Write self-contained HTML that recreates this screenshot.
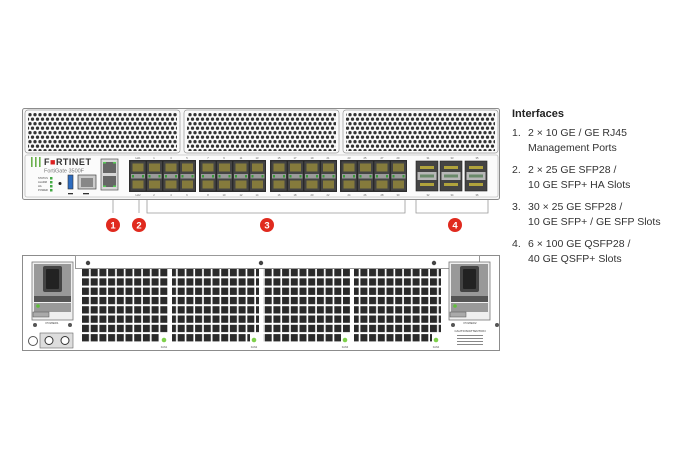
<!DOCTYPE html>
<html><head><meta charset="utf-8"><style>
html,body{margin:0;padding:0;background:#fff;width:690px;height:460px;overflow:hidden}
svg{display:block}
</style></head><body>
<svg width="690" height="460" viewBox="0 0 690 460" xmlns="http://www.w3.org/2000/svg" font-family="Liberation Sans, sans-serif">
<defs>
<pattern id="holes" x="0" y="0" width="5" height="9" patternUnits="userSpaceOnUse">
<circle cx="2.5" cy="2.2" r="1.65" fill="#333"/>
<circle cx="0" cy="6.7" r="1.65" fill="#333"/>
<circle cx="5" cy="6.7" r="1.65" fill="#333"/>
</pattern>
<pattern id="sq" x="82" y="269" width="8.7" height="9.3" patternUnits="userSpaceOnUse">
<rect x="0" y="0" width="7" height="7.3" fill="#2a2a2a"/>
</pattern>
<g id="cage">
<rect x="0" y="0" width="16" height="30" fill="#444" stroke="#222" stroke-width="0.6"/>
<rect x="2.5" y="2.5" width="11" height="8" fill="#857b3c"/>
<rect x="2.5" y="19.5" width="11" height="8" fill="#857b3c"/>
<rect x="1" y="13" width="14" height="4.5" fill="#9a9a9a"/>
<rect x="2" y="14" width="2" height="2.5" fill="#3a9a3a"/>
<rect x="12" y="14" width="2" height="2.5" fill="#3a9a3a"/>
</g>
<g id="sfp4">
<rect x="-1" y="-1" width="67" height="32" fill="#333"/>
<use href="#cage" x="0"/><use href="#cage" x="16.5"/><use href="#cage" x="33"/><use href="#cage" x="49.5"/>
</g>
<g id="qsfp">
<rect x="0" y="0" width="22" height="30" fill="#444" stroke="#222" stroke-width="0.6"/>
<rect x="4" y="5" width="14" height="3" fill="#b0a33c"/>
<rect x="4" y="22" width="14" height="3" fill="#b0a33c"/>
<rect x="1.5" y="11" width="19" height="8" fill="#b8b8b8"/>
<rect x="4" y="13.5" width="14" height="3" fill="#6a8a6a"/>
</g>
<g id="psu">
<rect x="0" y="0" width="41" height="58" fill="#efefef" stroke="#777" stroke-width="0.8"/>
<rect x="2" y="2" width="37" height="32" fill="#999"/>
<rect x="11" y="4" width="19" height="26" rx="2" fill="#444"/>
<rect x="14" y="7" width="13" height="20" rx="1" fill="#222"/>
<rect x="2" y="34" width="37" height="6" fill="#555"/>
<rect x="2" y="41" width="37" height="9" fill="#999"/>
<circle cx="6" cy="44" r="1.8" fill="#5fbf3a"/>
<rect x="1" y="50" width="16" height="5" fill="#aaa" stroke="#555" stroke-width="0.5"/>
</g>
</defs>

<!-- FRONT PANEL -->
<rect x="22.5" y="108.5" width="477" height="91" rx="2" fill="#f7f7f7" stroke="#8c8c8c"/>
<rect x="25" y="110" width="155" height="43" rx="3" fill="#fafafa" stroke="#999" stroke-width="0.7"/>
<rect x="28" y="112" width="149" height="39" fill="url(#holes)"/>
<rect x="184" y="110" width="155" height="43" rx="3" fill="#fafafa" stroke="#999" stroke-width="0.7"/>
<rect x="187" y="112" width="149" height="39" fill="url(#holes)"/>
<rect x="343" y="110" width="155" height="43" rx="3" fill="#fafafa" stroke="#999" stroke-width="0.7"/>
<rect x="346" y="112" width="149" height="39" fill="url(#holes)"/>
<rect x="25" y="155" width="473" height="42" rx="2" fill="#fbfbfb" stroke="#aaa" stroke-width="0.6"/>

<!-- logo -->
<rect x="31" y="157" width="1.6" height="10" fill="#6ab04c"/>
<rect x="35" y="157" width="1.6" height="10" fill="#6ab04c"/>
<rect x="39" y="157" width="1.6" height="10" fill="#6ab04c"/>
<text x="44" y="165" font-size="9" font-weight="bold" fill="#333" letter-spacing="0.5">F<tspan fill="#d22">■</tspan>RTINET</text>
<text x="44" y="172.5" font-size="5.5" fill="#777">FortiGate 3500F</text>
<g font-size="2.6" fill="#444">
<text x="38" y="179">STATUS</text><text x="38" y="183">ALARM</text><text x="38" y="187">HA</text><text x="38" y="191">POWER</text>
</g>
<rect x="50" y="177" width="2.5" height="2.5" fill="#4a4"/><rect x="50" y="181" width="2.5" height="2.5" fill="#4a4"/>
<rect x="50" y="185" width="2.5" height="2.5" fill="#4a4"/><rect x="50" y="189" width="2.5" height="2.5" fill="#4a4"/>
<circle cx="60" cy="183.5" r="1.5" fill="#222"/>
<rect x="68" y="175" width="5" height="14" fill="#2d6cc0" stroke="#333" stroke-width="0.6"/>
<rect x="68" y="193" width="5" height="1.3" fill="#333"/>
<rect x="78" y="175" width="18" height="14" fill="#ccc" stroke="#444" stroke-width="0.7"/>
<rect x="81" y="178" width="12" height="9" fill="#888"/>
<rect x="83" y="193" width="6" height="1.3" fill="#333"/>
<!-- mgmt -->
<rect x="101" y="159" width="17" height="31" fill="#d8d8d8" stroke="#555" stroke-width="0.7"/>
<rect x="103" y="162" width="13" height="11" fill="#666"/>
<rect x="103" y="176" width="13" height="11" fill="#666"/>
<rect x="103" y="162" width="3" height="1.5" fill="#5c5"/><rect x="113" y="162" width="3" height="1.5" fill="#5c5"/>
<rect x="103" y="185.5" width="3" height="1.5" fill="#5c5"/><rect x="113" y="185.5" width="3" height="1.5" fill="#5c5"/>
<!-- SFP groups -->
<use href="#sfp4" x="130" y="161"/>
<use href="#sfp4" x="200" y="161"/>
<use href="#sfp4" x="271" y="161"/>
<use href="#sfp4" x="341" y="161"/>
<use href="#qsfp" x="416" y="161"/>
<use href="#qsfp" x="440" y="161"/>
<use href="#qsfp" x="465" y="161"/>
<g font-size="2.6" fill="#555" text-anchor="middle">
<text x="138" y="159">HA1</text><text x="154" y="159">1</text><text x="171" y="159">3</text><text x="187" y="159">5</text>
<text x="208" y="159">7</text><text x="224" y="159">9</text><text x="241" y="159">11</text><text x="257" y="159">13</text>
<text x="279" y="159">15</text><text x="295" y="159">17</text><text x="312" y="159">19</text><text x="328" y="159">21</text>
<text x="349" y="159">23</text><text x="365" y="159">25</text><text x="382" y="159">27</text><text x="398" y="159">29</text>
<text x="428" y="159">31</text><text x="452" y="159">33</text><text x="477" y="159">35</text>
<text x="138" y="196">HA2</text><text x="154" y="196">2</text><text x="171" y="196">4</text><text x="187" y="196">6</text>
<text x="208" y="196">8</text><text x="224" y="196">10</text><text x="241" y="196">12</text><text x="257" y="196">14</text>
<text x="279" y="196">16</text><text x="295" y="196">18</text><text x="312" y="196">20</text><text x="328" y="196">22</text>
<text x="349" y="196">24</text><text x="365" y="196">26</text><text x="382" y="196">28</text><text x="398" y="196">30</text>
<text x="428" y="196">32</text><text x="452" y="196">34</text><text x="477" y="196">36</text>
</g>
<!-- brackets -->
<g stroke="#999" stroke-width="0.8" fill="none">
<line x1="113" y1="200" x2="113" y2="213"/>
<line x1="139" y1="200" x2="139" y2="213"/>
<polyline points="147,200 147,213 405,213 405,200"/>
<polyline points="416,200 416,213 488,213 488,200"/>
</g>
<g fill="#e02a1e"><circle cx="113" cy="225" r="7"/><circle cx="139" cy="225" r="7"/><circle cx="267" cy="225" r="7"/><circle cx="455" cy="225" r="7"/></g>
<g fill="#fff" font-size="9.5" font-weight="bold" text-anchor="middle">
<text x="113" y="228.5">1</text><text x="139" y="228.5">2</text><text x="267" y="228.5">3</text><text x="455" y="228.5">4</text>
</g>

<!-- REAR PANEL -->
<rect x="22.5" y="255.5" width="477" height="95" fill="#fff" stroke="#8c8c8c"/>
<rect x="75.5" y="255.5" width="404" height="13" fill="#fff" stroke="#999"/>
<circle cx="88" cy="263" r="2.2" fill="#444"/><circle cx="261" cy="263" r="2.2" fill="#444"/><circle cx="434" cy="263" r="2.2" fill="#444"/>
<rect x="82" y="269" width="87" height="74" fill="url(#sq)"/>
<rect x="172" y="269" width="87" height="74" fill="url(#sq)"/>
<rect x="263" y="269" width="87" height="74" fill="url(#sq)"/>
<rect x="354" y="269" width="87" height="74" fill="url(#sq)"/>
<g fill="#fff"><rect x="160" y="334" width="9" height="11"/><rect x="250" y="334" width="9" height="11"/><rect x="341" y="334" width="9" height="11"/><rect x="432" y="334" width="9" height="11"/></g>
<g fill="#7ed04a"><circle cx="164" cy="340" r="2.3"/><circle cx="254" cy="340" r="2.3"/><circle cx="345" cy="340" r="2.3"/><circle cx="436" cy="340" r="2.3"/></g>
<g font-size="2.6" fill="#555" text-anchor="middle"><text x="164" y="348">FAN1</text><text x="254" y="348">FAN2</text><text x="345" y="348">FAN3</text><text x="436" y="348">FAN4</text></g>
<use href="#psu" x="32" y="262"/>
<use href="#psu" x="449" y="262"/>
<text x="52" y="324" font-size="3" fill="#444" text-anchor="middle">POWER1</text>
<text x="470" y="324" font-size="3" fill="#444" text-anchor="middle">POWER2</text>
<circle cx="35" cy="325" r="2" fill="#555"/><circle cx="70" cy="325" r="2" fill="#555"/>
<circle cx="453" cy="325" r="2" fill="#555"/><circle cx="497" cy="325" r="2" fill="#555"/>
<circle cx="33" cy="341" r="4.5" fill="#fff" stroke="#555"/>
<rect x="40" y="333" width="33" height="15" fill="#ddd" stroke="#666" stroke-width="0.6"/>
<circle cx="49" cy="340.5" r="4" fill="#fff" stroke="#333"/><circle cx="65" cy="340.5" r="4" fill="#fff" stroke="#333"/>
<text x="470" y="332" font-size="3" fill="#333" text-anchor="middle">CAUTION/ATTENTION</text>
<g fill="#888"><rect x="457" y="335" width="26" height="1"/><rect x="457" y="338" width="26" height="1"/><rect x="457" y="341" width="26" height="1"/><rect x="457" y="344" width="26" height="1"/></g>

<!-- TEXT -->
<text x="512" y="117" font-size="11" font-weight="bold" fill="#222">Interfaces</text>
<g font-size="10.5" fill="#333">
<text x="512" y="136">1.</text><text x="528" y="136">2 × 10 GE / GE RJ45</text><text x="528" y="151">Management Ports</text>
<text x="512" y="173">2.</text><text x="528" y="173">2 × 25 GE SFP28 /</text><text x="528" y="188">10 GE SFP+ HA Slots</text>
<text x="512" y="210">3.</text><text x="528" y="210">30 × 25 GE SFP28 /</text><text x="528" y="225">10 GE SFP+ / GE SFP Slots</text>
<text x="512" y="247">4.</text><text x="528" y="247">6 × 100 GE QSFP28 /</text><text x="528" y="262">40 GE QSFP+ Slots</text>
</g>
</svg>
</body></html>
